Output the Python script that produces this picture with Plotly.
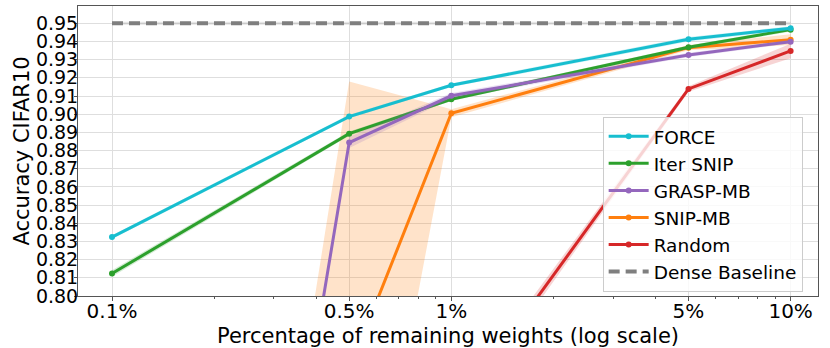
import plotly.graph_objects as go

# percentage of remaining weights
pct = [0.1, 0.5, 1, 5, 10]
pct_labels = ["0.1%", "0.5%", "1%", "5%", "10%"]
minor_pct = [0.2, 0.3, 0.4, 0.6, 0.7, 0.8, 0.9, 2, 3, 4, 6, 7, 8, 9]
acc_ticks = [0.80, 0.81, 0.82, 0.83, 0.84, 0.85, 0.86, 0.87,
             0.88, 0.89, 0.90, 0.91, 0.92, 0.93, 0.94, 0.95]

force = [0.8324, 0.8987, 0.9159, 0.9412, 0.9473]
force_std = [0.001, 0.001, 0.001, 0.0012, 0.001]
iter_snip = [0.8124, 0.8893, 0.9082, 0.9368, 0.9465]
iter_snip_std = [0.0018, 0.0012, 0.001, 0.001, 0.001]
grasp_mb = [0.10, 0.8844, 0.9101, 0.9326, 0.9399]
grasp_mb_std = [0.0, 0.003, 0.0015, 0.0012, 0.001]
snip_mb = [0.10, 0.759, 0.9005, 0.9366, 0.9410]
snip_mb_std = [0.0, 0.159, 0.0022, 0.0015, 0.003]
random_ = [0.10, 0.45, 0.734, 0.9139, 0.9348]
random_std = [0.0, 0.01, 0.005, 0.0015, 0.004]
dense = [0.950, 0.950, 0.950, 0.950, 0.950]
dense_std = [0.0008, 0.0008, 0.0008, 0.0008, 0.0008]

series = [
    # name, mean, std, color, band colour, legend rank
    ("Random", random_, random_std, "#d62728", "rgba(214,39,40,0.2)", 5),
    ("SNIP-MB", snip_mb, snip_mb_std, "#ff7f0e", "rgba(255,127,14,0.22)", 4),
    ("Iter SNIP", iter_snip, iter_snip_std, "#2ca02c", "rgba(44,160,44,0.2)", 2),
    ("GRASP-MB", grasp_mb, grasp_mb_std, "#9467bd", "rgba(148,103,189,0.2)", 3),
    ("FORCE", force, force_std, "#17becf", "rgba(23,190,207,0.2)", 1),
]

FONT = "DejaVu Sans"
fig = go.Figure()


def band(mean, std, fillcolor):
    lo = [m - s for m, s in zip(mean, std)]
    hi = [m + s for m, s in zip(mean, std)]
    return go.Scatter(x=pct + pct[::-1], y=hi + lo[::-1], mode="lines", fill="toself",
                      fillcolor=fillcolor, line=dict(width=0),
                      showlegend=False, hoverinfo="skip")


# dense baseline
fig.add_trace(band(dense, dense_std, "rgba(127,127,127,0.2)"))
fig.add_trace(go.Scatter(x=pct, y=dense, mode="lines", name="Dense Baseline",
                         line=dict(color="#7f7f7f", width=4, dash="11px,6px"),
                         legendrank=6))

for name, mean, std, color, fillc, rank in series:
    fig.add_trace(band(mean, std, fillc))
    fig.add_trace(go.Scatter(x=pct, y=mean, mode="lines+markers", name=name,
                             line=dict(color=color, width=3),
                             marker=dict(color=color, size=6),
                             legendrank=rank))

axis_common = dict(showline=True, linecolor="#555555", linewidth=1, mirror=True,
                   showgrid=True, gridcolor="#dedede", gridwidth=1,
                   ticks="outside", tickcolor="#555555",
                   zeroline=False, automargin=False)

fig.update_xaxes(type="log", range=[-1.1002, 1.0807],
                 tickvals=pct, ticktext=pct_labels, ticklen=4, ticklabelstandoff=-7,
                 tickfont=dict(family=FONT, size=20, color="black"),
                 minor=dict(tickvals=minor_pct, ticks="outside", ticklen=2,
                            tickcolor="#555555", showgrid=False),
                 title=dict(text="Percentage of remaining weights (log scale)",
                            font=dict(family=FONT, size=21, color="black"), standoff=7),
                 **axis_common)
fig.update_yaxes(range=[0.80, 0.9595], tickvals=acc_ticks, tickformat=".2f",
                 ticklen=3, ticklabelstandoff=-8,
                 tickfont=dict(family=FONT, size=19, color="black"),
                 title=dict(text="Accuracy CIFAR10",
                            font=dict(family=FONT, size=21, color="black"), standoff=0),
                 **axis_common)

fig.update_layout(
    width=830, height=348,
    margin=dict(l=78, r=12, t=6, b=52),
    plot_bgcolor="white", paper_bgcolor="white",
    font=dict(family=FONT),
    legend=dict(x=0.709, y=0.618, xanchor="left", yanchor="top",
                bgcolor="rgba(255,255,255,0.8)", bordercolor="#cccccc", borderwidth=1,
                font=dict(family=FONT, size=18.5, color="black"),
                itemwidth=40, tracegroupgap=0),
    showlegend=True,
)

# page body has a default 8px margin; drop it so the figure sits at the window origin
fig.write_html("out.html", config={"displayModeBar": False},
               post_script="document.body.style.margin='0';")
